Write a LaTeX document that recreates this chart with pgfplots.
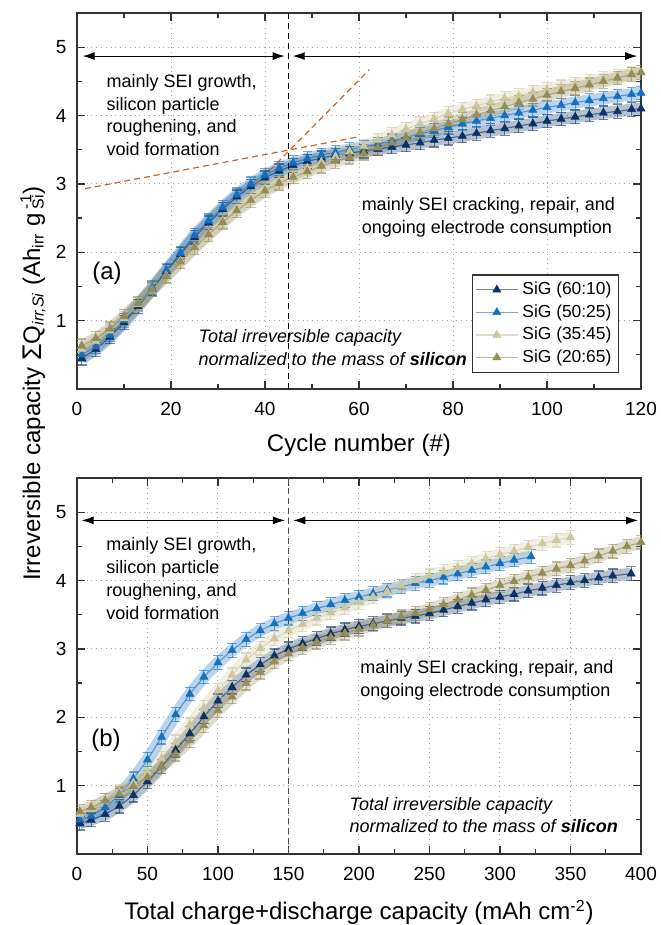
\documentclass[border=0pt]{standalone}
\usepackage{fontspec}
\setmainfont{Liberation Sans}
\usepackage{pgfplots}
\usepackage{pgfplotstable}
\pgfplotsset{compat=1.18}
\usetikzlibrary{arrows.meta}
\definecolor{cNavy}{RGB}{12,50,100}
\definecolor{cBlue}{RGB}{22,112,192}
\definecolor{cBeige}{RGB}{205,198,158}
\definecolor{cOlive}{RGB}{150,140,88}
\definecolor{cOrange}{RGB}{200,100,40}

\pgfplotstableread{
x n b e o
1 0.45 0.50 0.58 0.63
4 0.58 0.62 0.70 0.74
7 0.76 0.79 0.85 0.88
10 0.97 1.00 1.03 1.06
13 1.21 1.24 1.24 1.25
16 1.46 1.48 1.45 1.45
19 1.72 1.74 1.66 1.65
22 1.97 1.99 1.87 1.86
25 2.22 2.25 2.08 2.07
28 2.43 2.46 2.27 2.26
31 2.63 2.66 2.46 2.44
34 2.81 2.84 2.64 2.61
37 2.96 3.00 2.80 2.76
40 3.09 3.13 2.93 2.90
43 3.19 3.23 3.04 3.01
46 3.27 3.31 3.13 3.10
49 3.33 3.37 3.23 3.18
52 3.38 3.42 3.32 3.26
55 3.42 3.46 3.40 3.33
58 3.45 3.50 3.47 3.39
61 3.48 3.54 3.55 3.45
64 3.51 3.58 3.64 3.53
67 3.54 3.63 3.72 3.60
70 3.57 3.68 3.80 3.68
73 3.60 3.73 3.88 3.75
76 3.64 3.78 3.95 3.81
79 3.67 3.83 4.03 3.88
82 3.70 3.88 4.09 3.94
85 3.74 3.92 4.14 4.01
88 3.78 3.96 4.20 4.07
91 3.81 4.00 4.25 4.13
94 3.85 4.04 4.29 4.19
97 3.88 4.08 4.34 4.24
100 3.92 4.12 4.38 4.30
103 3.95 4.15 4.42 4.35
106 3.98 4.19 4.46 4.40
109 4.01 4.22 4.50 4.45
112 4.04 4.25 4.54 4.50
115 4.06 4.28 4.57 4.55
118 4.09 4.31 4.61 4.60
120 4.10 4.33 4.63 4.63
}\tTop

\pgfplotstableread{
x y
2 0.45
10 0.50
20 0.58
30 0.70
40 0.86
50 1.06
60 1.28
70 1.52
80 1.76
90 2.01
100 2.24
110 2.44
120 2.62
130 2.77
140 2.90
150 3.00
160 3.08
170 3.15
180 3.22
190 3.28
200 3.33
210 3.37
220 3.41
230 3.45
240 3.48
250 3.52
260 3.57
270 3.62
280 3.67
290 3.72
300 3.76
310 3.80
320 3.85
330 3.89
340 3.93
350 3.97
360 4.00
370 4.04
380 4.07
393 4.10
}\tBn

\pgfplotstableread{
x y
2 0.50
10 0.56
20 0.68
30 0.86
40 1.10
50 1.38
60 1.71
70 2.04
80 2.34
90 2.59
100 2.80
110 2.98
120 3.14
130 3.27
140 3.37
150 3.45
160 3.52
170 3.59
180 3.65
190 3.71
200 3.76
210 3.81
220 3.86
230 3.91
240 3.96
250 4.00
260 4.05
270 4.10
280 4.15
290 4.20
300 4.25
310 4.30
322 4.35
}\tBb

\pgfplotstableread{
x y
2 0.58
10 0.65
20 0.78
30 0.91
40 1.04
50 1.19
60 1.40
70 1.64
80 1.89
90 2.14
100 2.39
110 2.62
120 2.84
130 3.01
140 3.15
150 3.27
160 3.36
170 3.45
180 3.53
190 3.60
200 3.68
210 3.76
220 3.84
230 3.92
240 4.00
250 4.07
260 4.13
270 4.19
280 4.25
290 4.32
300 4.38
310 4.43
320 4.49
330 4.54
340 4.59
350 4.63
}\tBe

\pgfplotstableread{
x y
2 0.62
10 0.68
20 0.78
30 0.88
40 0.99
50 1.12
60 1.28
70 1.46
80 1.66
90 1.88
100 2.10
110 2.30
120 2.50
130 2.66
140 2.81
150 2.93
160 3.02
170 3.10
180 3.17
190 3.23
200 3.29
210 3.35
220 3.41
230 3.47
240 3.52
250 3.58
260 3.65
270 3.72
280 3.79
290 3.86
300 3.93
310 3.99
320 4.05
330 4.11
340 4.17
350 4.22
360 4.29
370 4.36
380 4.43
390 4.50
400 4.56
}\tBo

\pgfplotsset{
  myax/.style={
    scale only axis, width=282pt, height=188pt,
    ymin=0, ymax=5.5, ytick={1,2,3,4,5}, minor ytick={0.5,1.5,2.5,3.5,4.5},
    tick align=inside, major tick length=4pt, minor tick length=2.5pt,
    xmajorgrids, ymajorgrids,
    major grid style={dotted, black!35, line width=0.5pt},
    axis line style={line width=0.6pt, black!80},
    every tick/.style={black!80, line width=0.6pt},
    tick label style={font=\fontsize{9.5}{11}\selectfont},
    /pgf/number format/assume math mode=true,
    xticklabel style={anchor=center, yshift=-10pt},
    yticklabel style={xshift=-1.8pt},
    clip marker paths=false,
  },
  band/.style={#1, line width=6pt, opacity=0.3, no markers, forget plot},
  ser/.style={#1, line width=0.6pt, draw opacity=0.6, mark=triangle*, mark size=2.3pt,
    mark options={draw opacity=1, fill=#1, line width=0.3pt},
    error bars/.cd, y dir=both, y fixed=0.1, error mark=|,
    error bar style={#1, line width=0.5pt},
    error mark options={#1, mark size=2.4pt, line width=0.6pt}},
}
\tikzset{
  ann/.style={font=\fontsize{9}{11.4}\selectfont, align=left, inner sep=0pt, anchor=north west},
  arr/.style={line width=0.5pt, {Latex[length=6pt,width=4pt]}-{Latex[length=6pt,width=4pt]}},
}

\begin{document}
\begin{tikzpicture}
\path[use as bounding box] (0,0) rectangle (330pt,462.5pt);

% top panel
\begin{axis}[myax, at={(38.5pt,268pt)}, anchor=south west,
  xmin=0, xmax=120, xtick={0,20,...,120}, minor x tick num=1,
  xlabel={Cycle number (\#)},
  xlabel style={at={(axis description cs:0.5,0)}, anchor=center, yshift=-28pt, font=\fontsize{12}{14}\selectfont},
  legend style={at={(0.961,0.0426)}, anchor=south east, draw=black!80, line width=0.6pt,
    font=\fontsize{8.7}{10}\selectfont, inner sep=1.5pt, row sep=-0.5pt, cells={anchor=west}},
  legend image code/.code={\draw[mark repeat=2, mark phase=2, #1] plot coordinates {(0pt,0pt) (10.5pt,0pt) (21pt,0pt)};},
]
\addplot[band=cNavy] table[x=x, y=n] {\tTop};
\addplot[band=cBlue] table[x=x, y=b] {\tTop};
\addplot[band=cBeige] table[x=x, y=e] {\tTop};
\addplot[band=cOlive] table[x=x, y=o] {\tTop};
\addplot[ser=cNavy] table[x=x, y=n] {\tTop};
\addlegendentry{SiG (60:10)}
\addplot[ser=cBlue] table[x=x, y=b] {\tTop};
\addlegendentry{SiG (50:25)}
\addplot[ser=cBeige] table[x=x, y=e] {\tTop};
\addlegendentry{SiG (35:45)}
\addplot[ser=cOlive] table[x=x, y=o] {\tTop};
\addlegendentry{SiG (20:65)}
\addplot[cOrange, densely dashed, line width=0.6pt, forget plot] coordinates {(1.7,2.93) (60,3.69)};
\addplot[cOrange, densely dashed, line width=0.6pt, forget plot] coordinates {(38,2.99) (62.2,4.67)};
\addplot[black, densely dashed, line width=0.5pt, forget plot] coordinates {(45,0) (45,5.5)};
\draw[arr] (axis cs:1.2,4.87) -- (axis cs:44.2,4.87);
\draw[arr] (axis cs:45.9,4.87) -- (axis cs:119.2,4.87);
\node[ann] at (axis cs:6.2,4.61) {mainly SEI growth,\\silicon particle\\roughening, and\\void formation};
\node[ann] at (axis cs:60.5,2.81) {mainly SEI cracking, repair, and\\ongoing electrode consumption};
\node[ann] at (axis cs:25.8,0.88) {\itshape Total irreversible capacity\\\itshape normalized to the mass of \textbf{silicon}};
\node[font=\fontsize{12}{14}\selectfont, inner sep=0pt] at (axis cs:6.4,1.69) {(a)};
\end{axis}

% bottom panel
\begin{axis}[myax, at={(38.5pt,35.5pt)}, anchor=south west,
  xmin=0, xmax=400, xtick={0,50,...,400}, minor x tick num=1,
  xlabel={Total charge+discharge capacity (mAh cm\textsuperscript{-2})},
  xlabel style={at={(axis description cs:0.5,0)}, anchor=center, yshift=-29.25pt, font=\fontsize{12}{14}\selectfont},
]
\addplot[band=cNavy] table {\tBn};
\addplot[band=cBlue] table {\tBb};
\addplot[band=cBeige] table {\tBe};
\addplot[band=cOlive] table {\tBo};
\addplot[ser=cNavy] table {\tBn};
\addplot[ser=cBlue] table {\tBb};
\addplot[ser=cBeige] table {\tBe};
\addplot[ser=cOlive] table {\tBo};
\addplot[black!70, densely dashed, line width=0.5pt, forget plot] coordinates {(150,0) (150,5.5)};
\draw[arr] (axis cs:3.3,4.88) -- (axis cs:147.5,4.88);
\draw[arr] (axis cs:153.4,4.88) -- (axis cs:397.9,4.88);
\node[ann] at (axis cs:20.6,4.63) {mainly SEI growth,\\silicon particle\\roughening, and\\void formation};
\node[ann] at (axis cs:200.7,2.83) {mainly SEI cracking, repair, and\\ongoing electrode consumption};
\node[ann] at (axis cs:193.1,0.84) {\itshape Total irreversible capacity\\\itshape normalized to the mass of \textbf{silicon}};
\node[font=\fontsize{12}{14}\selectfont, inner sep=0pt] at (axis cs:20.6,1.67) {(b)};
\end{axis}

\node[rotate=90, font=\fontsize{12}{14}\selectfont, inner sep=0pt] at (16.5pt,270.75pt)
  {Irreversible capacity \raisebox{-0.5pt}{\fontsize{13.5}{14}\selectfont Σ}Q\textsubscript{\itshape irr,Si} (Ah\textsubscript{irr} g\,\rlap{\textsuperscript{-1}}\textsubscript{Si})};
\end{tikzpicture}
\end{document}
